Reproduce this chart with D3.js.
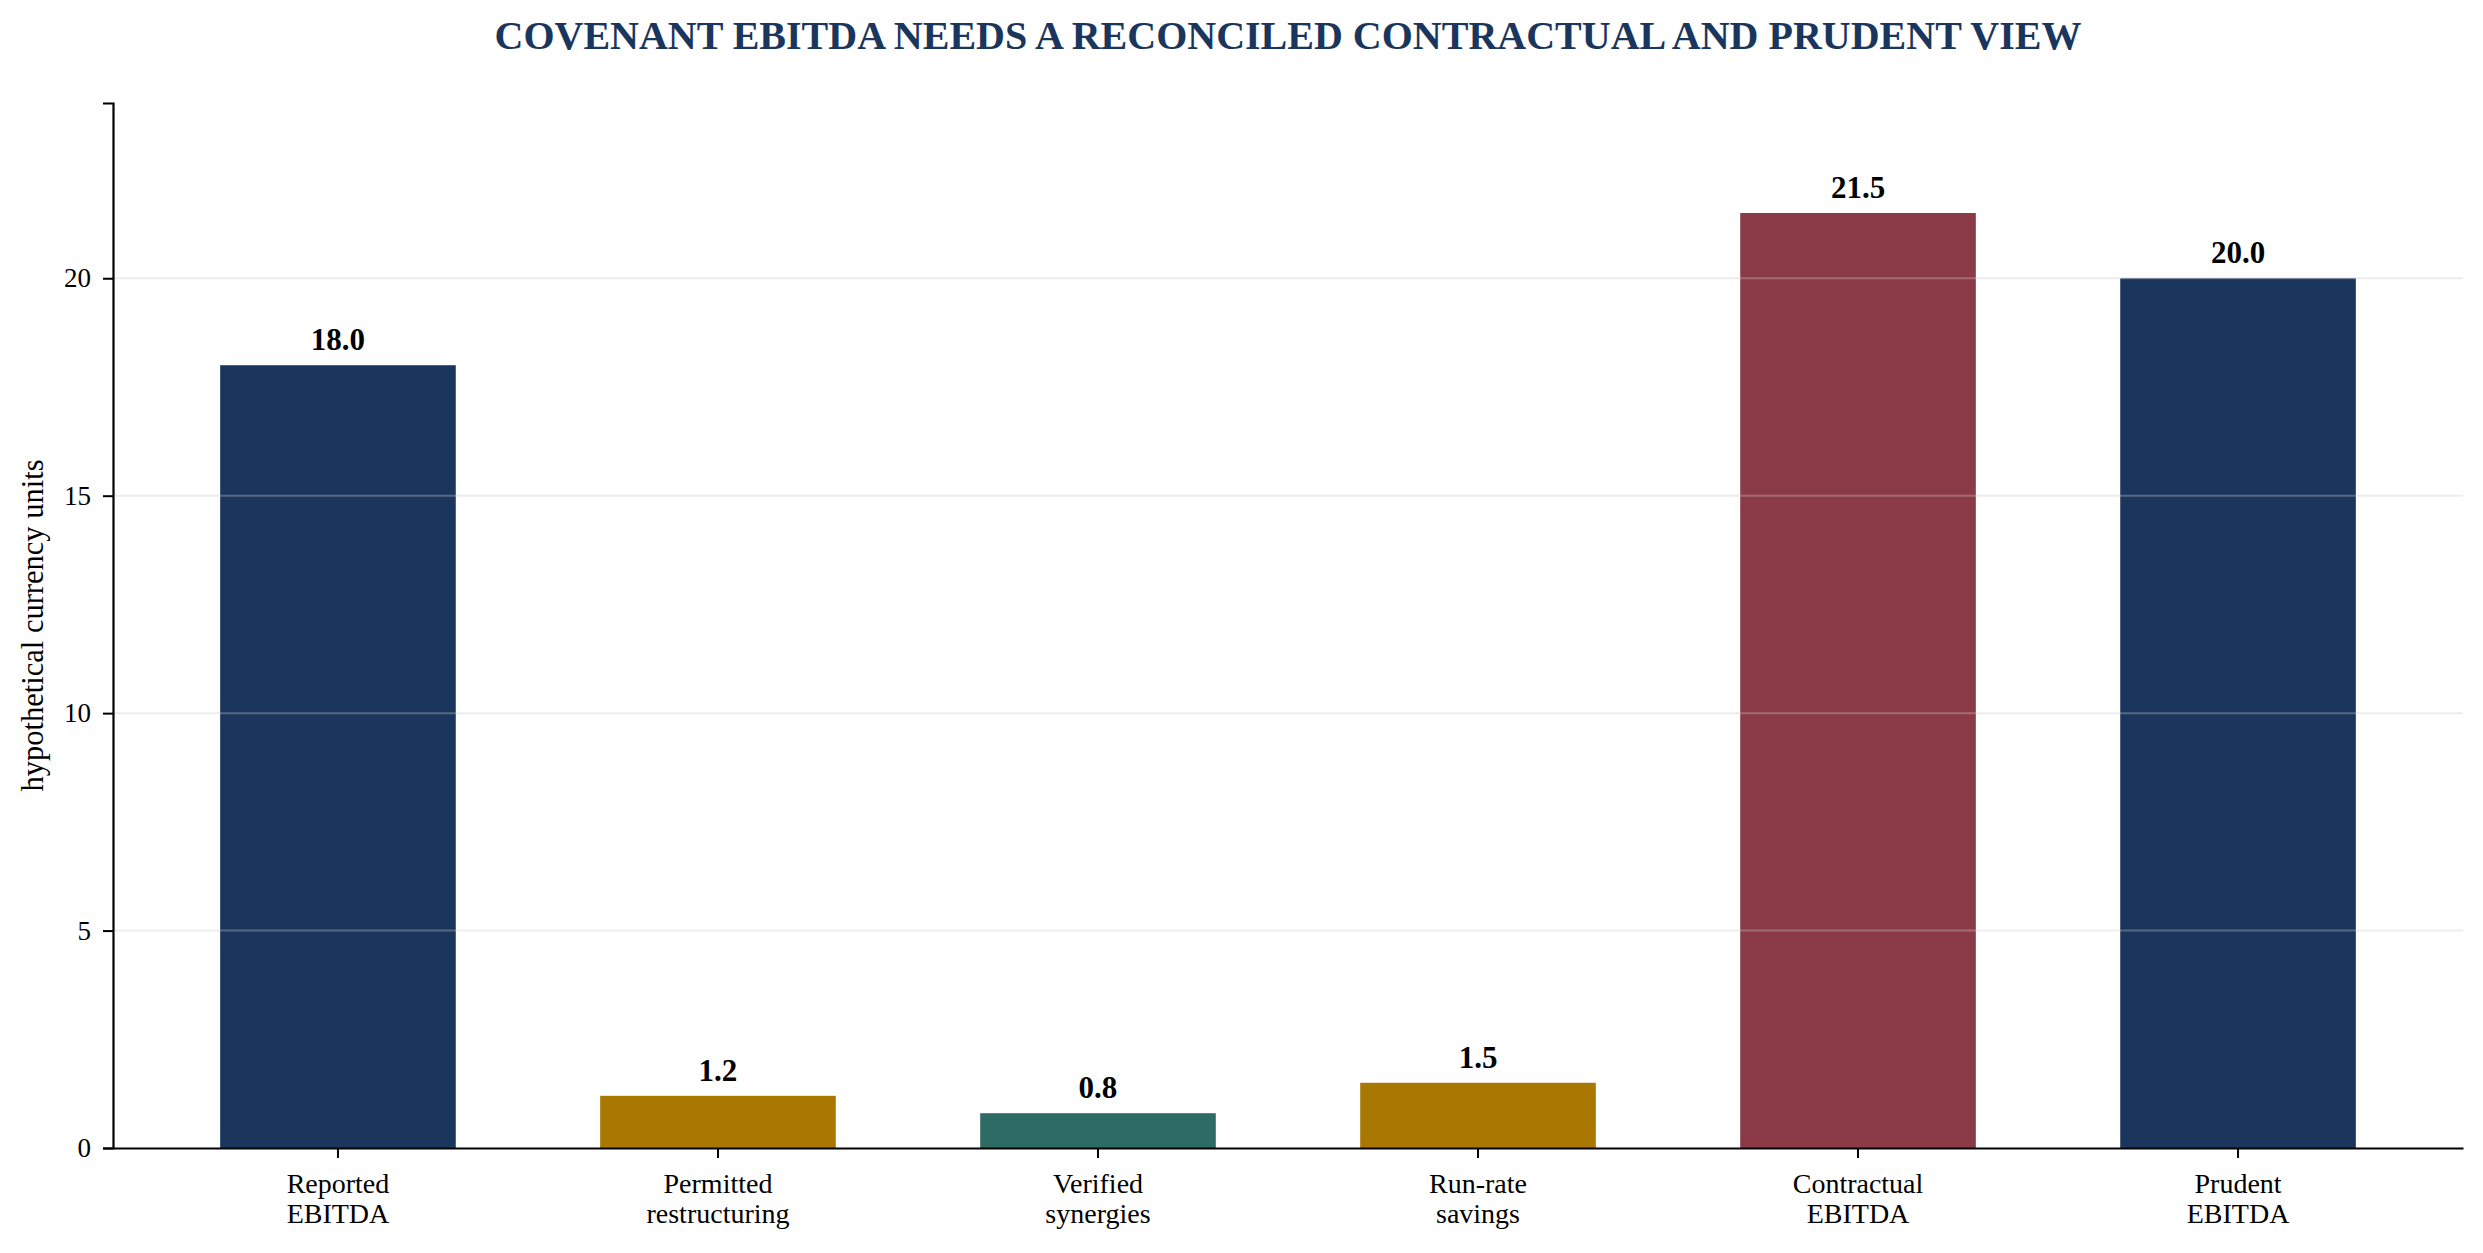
<!DOCTYPE html>
<html>
<head>
<meta charset="utf-8">
<script src="https://cdn.jsdelivr.net/npm/d3@7"></script>
<style>
  body { margin: 0; background: #fff; }
  svg { display: block; font-family: "Liberation Serif", "Times New Roman", serif; }
</style>
</head>
<body>
<svg width="2483" height="1253"></svg>
<script>
const svg = d3.select("svg");
const width = +svg.attr("width");
const height = +svg.attr("height");

// data
const categories = ["Reported\nEBITDA", "Permitted\nrestructuring", "Verified\nsynergies", "Run-rate\nsavings", "Contractual\nEBITDA", "Prudent\nEBITDA"];
const values = [18.0, 1.2, 0.8, 1.5, 21.5, 20.0];
const barColors = ["#1b365d", "#a87800", "#2e6b64", "#a87800", "#8b3a47", "#1b365d"];
const yTicks = [0, 5, 10, 15, 20];
const title = "COVENANT EBITDA NEEDS A RECONCILED CONTRACTUAL AND PRUDENT VIEW";
const yLabel = "hypothetical currency units";

const margin = { top: 103, right: 20, bottom: 105, left: 113 };
const x0 = margin.left, x1 = width - margin.right;
const y0 = height - margin.bottom, y1 = margin.top;

const x = d3.scaleBand()
    .domain(d3.range(categories.length))
    .range([x0, x1])
    .paddingInner(0.38)
    .paddingOuter(0.282);

const y = d3.scaleLinear()
    .domain([0, 24.03])
    .range([y0, y1]);

// bars
svg.append("g")
    .selectAll("rect")
    .data(values)
    .enter()
    .append("rect")
    .attr("x", (d, i) => x(i))
    .attr("width", x.bandwidth())
    .attr("y", d => y(d))
    .attr("height", d => y(0) - y(d))
    .attr("fill", (d, i) => barColors[i]);

// grid (drawn over bars, semi-transparent)
svg.append("g")
    .selectAll("line")
    .data(yTicks.filter(t => t > 0))
    .enter()
    .append("line")
    .attr("x1", x0)
    .attr("x2", x1)
    .attr("y1", d => y(d))
    .attr("y2", d => y(d))
    .attr("stroke", "#c8c8c8")
    .attr("stroke-opacity", 0.35)
    .attr("stroke-width", 2);

// value labels
svg.append("g")
    .selectAll("text")
    .data(values)
    .enter()
    .append("text")
    .attr("x", (d, i) => x(i) + x.bandwidth() / 2)
    .attr("y", d => y(d) - 15)
    .attr("text-anchor", "middle")
    .attr("font-size", 31)
    .attr("font-weight", "bold")
    .attr("fill", "#000")
    .text(d => d.toFixed(1));

// y axis
const yAxis = svg.append("g")
    .attr("transform", `translate(${x0},0)`)
    .call(d3.axisLeft(y).tickValues(yTicks).tickSize(10).tickPadding(12).tickFormat(d3.format("d")));
yAxis.select(".domain").attr("stroke-width", 2.2);
yAxis.selectAll(".tick line").attr("stroke-width", 2);
yAxis.selectAll("text").attr("font-size", 27).attr("font-family", "Liberation Serif").attr("fill", "#000");

// x axis
const xAxis = svg.append("g")
    .attr("transform", `translate(0,${y0})`)
    .call(d3.axisBottom(x).tickSize(10).tickSizeOuter(0).tickFormat(""));
xAxis.select(".domain").attr("stroke-width", 2.2);
xAxis.selectAll(".tick line").attr("stroke-width", 2);
xAxis.selectAll(".tick").each(function (d) {
    const lines = categories[d].split("\n");
    const t = d3.select(this).append("text")
        .attr("fill", "#000")
        .attr("font-size", 28)
        .attr("font-family", "Liberation Serif")
        .attr("text-anchor", "middle");
    lines.forEach((s, k) => {
        t.append("tspan").attr("x", 0).attr("y", 45 + k * 30).text(s);
    });
});

// y label
svg.append("text")
    .attr("transform", `translate(33,${(y0 + y1) / 2}) rotate(-90)`)
    .attr("text-anchor", "middle")
    .attr("dominant-baseline", "central")
    .attr("font-size", 30.5)
    .text(yLabel);

// title
svg.append("text")
    .attr("x", (x0 + x1) / 2)
    .attr("y", 49)
    .attr("text-anchor", "middle")
    .attr("font-size", 40)
    .attr("font-weight", "bold")
    .attr("fill", "#1b365d")
    .text(title);
</script>
</body>
</html>
